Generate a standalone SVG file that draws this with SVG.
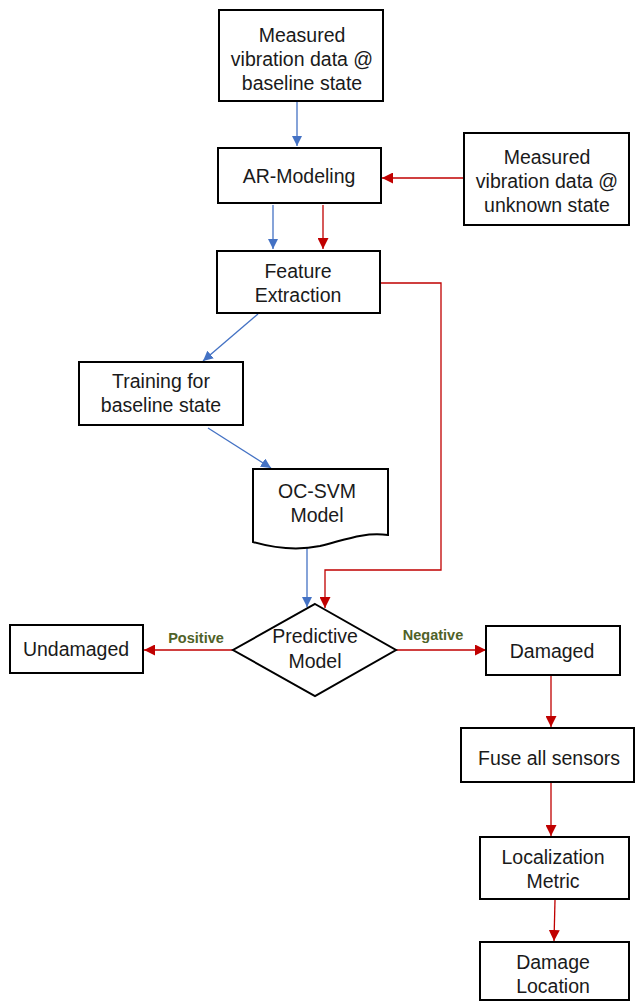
<svg xmlns="http://www.w3.org/2000/svg" width="635" height="1001" viewBox="0 0 635 1001">
  <style>
    .box { fill: #ffffff; stroke: #000000; stroke-width: 2; }
    .t { font-family: "Liberation Sans", Arial, sans-serif; font-size: 19.5px; fill: #1a1a1a; text-anchor: middle; }
    .lbl { font-family: "Liberation Sans", Arial, sans-serif; font-size: 14.5px; font-weight: bold; fill: #4f6228; text-anchor: middle; }
    .blue { stroke: #4472c4; stroke-width: 1.3; fill: none; }
    .red { stroke: #c00000; stroke-width: 1.3; fill: none; }
  </style>
  <defs>
    <marker id="ab" viewBox="0 0 10 10" refX="10" refY="5" markerWidth="10" markerHeight="10" markerUnits="userSpaceOnUse" orient="auto">
      <path d="M0,0 L10,5 L0,10 Z" fill="#4472c4"/>
    </marker>
    <marker id="ar" viewBox="0 0 10 10" refX="10" refY="5" markerWidth="11" markerHeight="11" markerUnits="userSpaceOnUse" orient="auto">
      <path d="M0,0 L10,5 L0,10 Z" fill="#c00000"/>
    </marker>
  </defs>

  <rect width="635" height="1001" fill="#ffffff"/>

  <g id="connectors">
    <path class="blue" d="M297,102 V146" marker-end="url(#ab)"/>
    <path class="red" d="M464,178 H382" marker-end="url(#ar)"/>
    <path class="blue" d="M273,205 V249" marker-end="url(#ab)"/>
    <path class="red" d="M323,205 V249" marker-end="url(#ar)"/>
    <path class="blue" d="M258,314 L203,361" marker-end="url(#ab)"/>
    <path class="blue" d="M208,428 L271,468" marker-end="url(#ab)"/>
    <path class="blue" d="M307,548 V607" marker-end="url(#ab)"/>
    <path class="red" d="M381,283 H441 V570 H325 V608" marker-end="url(#ar)"/>
    <path class="red" d="M233,650 H144" marker-end="url(#ar)"/>
    <path class="red" d="M396,650 H486" marker-end="url(#ar)"/>
    <path class="red" d="M551,676 V727" marker-end="url(#ar)"/>
    <path class="red" d="M551,783 V836" marker-end="url(#ar)"/>
    <path class="red" d="M555,900 L554,941" marker-end="url(#ar)"/>
    <text class="lbl" x="196" y="643">Positive</text>
    <text class="lbl" x="433" y="640">Negative</text>
  </g>

  <g id="baseline-data">
    <rect class="box" x="219" y="10" width="164" height="91"/>
    <text class="t" x="302" y="42">Measured</text>
    <text class="t" x="302" y="66">vibration data @</text>
    <text class="t" x="302" y="90">baseline state</text>
  </g>

  <g id="ar-modeling">
    <rect class="box" x="218" y="148" width="163" height="55"/>
    <text class="t" x="299" y="183">AR-Modeling</text>
  </g>

  <g id="unknown-data">
    <rect class="box" x="464" y="133" width="165" height="92"/>
    <text class="t" x="547" y="164">Measured</text>
    <text class="t" x="547" y="188">vibration data @</text>
    <text class="t" x="547" y="212">unknown  state</text>
  </g>

  <g id="feature-extraction">
    <rect class="box" x="217" y="251" width="163" height="62"/>
    <text class="t" x="298" y="278">Feature</text>
    <text class="t" x="298" y="302">Extraction</text>
  </g>

  <g id="training">
    <rect class="box" x="79" y="362" width="164" height="63"/>
    <text class="t" x="161" y="388">Training for</text>
    <text class="t" x="161" y="412">baseline state</text>
  </g>

  <g id="oc-svm">
    <path class="box" d="M253,469 H388 V535 C362,532 345,540 320,546 C296,551 274,548 253,542 Z"/>
    <text class="t" x="317" y="498">OC-SVM</text>
    <text class="t" x="317" y="522">Model</text>
  </g>

  <g id="predictive-model">
    <path class="box" d="M315,604 L396,650 L315,696 L233,650 Z"/>
    <text class="t" x="315" y="643">Predictive</text>
    <text class="t" x="315" y="668">Model</text>
  </g>

  <g id="undamaged">
    <rect class="box" x="10" y="625" width="133" height="48"/>
    <text class="t" x="76" y="656">Undamaged</text>
  </g>

  <g id="damaged">
    <rect class="box" x="486" y="626" width="134" height="49"/>
    <text class="t" x="552" y="658">Damaged</text>
  </g>

  <g id="fuse-sensors">
    <rect class="box" x="461" y="728" width="173" height="54"/>
    <text class="t" x="549" y="765">Fuse all sensors</text>
  </g>

  <g id="localization-metric">
    <rect class="box" x="480" y="837" width="149" height="62"/>
    <text class="t" x="553" y="864">Localization</text>
    <text class="t" x="553" y="888">Metric</text>
  </g>

  <g id="damage-location">
    <rect class="box" x="480" y="942" width="149" height="58"/>
    <text class="t" x="553" y="969">Damage</text>
    <text class="t" x="553" y="993">Location</text>
  </g>
</svg>
